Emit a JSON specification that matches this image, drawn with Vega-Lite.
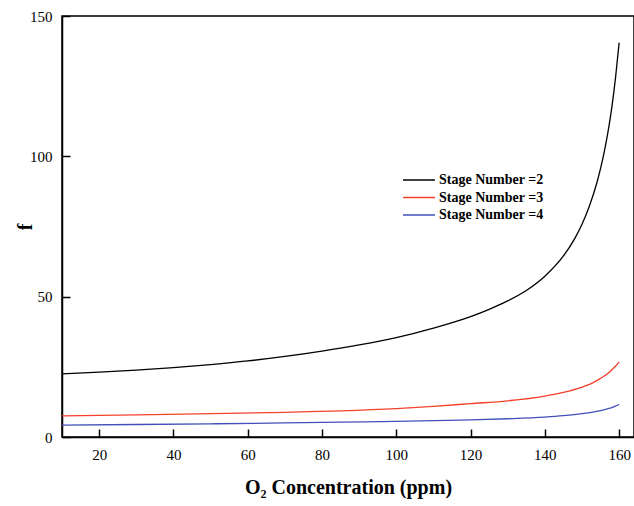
{
  "$schema": "https://vega.github.io/schema/vega-lite/v6.json",
  "width": 572,
  "height": 421,
  "autosize": {"type": "none"},
  "padding": {"left": 62, "top": 16, "right": 0, "bottom": 69},
  "background": "white",
  "config": {
    "font": "Liberation Serif",
    "view": {"stroke": "black", "strokeWidth": 1.5}
  },
  "data": {
    "values": [
      {"x": 10, "f": 22.5, "s": "Stage Number =2"},
      {"x": 20, "f": 23.1, "s": "Stage Number =2"},
      {"x": 30, "f": 23.8, "s": "Stage Number =2"},
      {"x": 40, "f": 24.7, "s": "Stage Number =2"},
      {"x": 50, "f": 25.8, "s": "Stage Number =2"},
      {"x": 60, "f": 27.1, "s": "Stage Number =2"},
      {"x": 70, "f": 28.7, "s": "Stage Number =2"},
      {"x": 80, "f": 30.6, "s": "Stage Number =2"},
      {"x": 90, "f": 32.8, "s": "Stage Number =2"},
      {"x": 100, "f": 35.4, "s": "Stage Number =2"},
      {"x": 110, "f": 38.8, "s": "Stage Number =2"},
      {"x": 120, "f": 42.9, "s": "Stage Number =2"},
      {"x": 125, "f": 45.5, "s": "Stage Number =2"},
      {"x": 130, "f": 48.5, "s": "Stage Number =2"},
      {"x": 135, "f": 52.2, "s": "Stage Number =2"},
      {"x": 140, "f": 57.3, "s": "Stage Number =2"},
      {"x": 145, "f": 64.5, "s": "Stage Number =2"},
      {"x": 148, "f": 70.6, "s": "Stage Number =2"},
      {"x": 150, "f": 75.8, "s": "Stage Number =2"},
      {"x": 152, "f": 82.3, "s": "Stage Number =2"},
      {"x": 154, "f": 90.6, "s": "Stage Number =2"},
      {"x": 155, "f": 95.7, "s": "Stage Number =2"},
      {"x": 156, "f": 101.7, "s": "Stage Number =2"},
      {"x": 157, "f": 108.7, "s": "Stage Number =2"},
      {"x": 158, "f": 117.2, "s": "Stage Number =2"},
      {"x": 159, "f": 127.7, "s": "Stage Number =2"},
      {"x": 160, "f": 140.5, "s": "Stage Number =2"},
      {"x": 10, "f": 7.5, "s": "Stage Number =3"},
      {"x": 30, "f": 7.9, "s": "Stage Number =3"},
      {"x": 50, "f": 8.3, "s": "Stage Number =3"},
      {"x": 70, "f": 8.8, "s": "Stage Number =3"},
      {"x": 85, "f": 9.3, "s": "Stage Number =3"},
      {"x": 100, "f": 10.1, "s": "Stage Number =3"},
      {"x": 110, "f": 10.9, "s": "Stage Number =3"},
      {"x": 120, "f": 11.9, "s": "Stage Number =3"},
      {"x": 130, "f": 12.9, "s": "Stage Number =3"},
      {"x": 140, "f": 14.6, "s": "Stage Number =3"},
      {"x": 145, "f": 15.9, "s": "Stage Number =3"},
      {"x": 150, "f": 17.8, "s": "Stage Number =3"},
      {"x": 153, "f": 19.4, "s": "Stage Number =3"},
      {"x": 155, "f": 20.9, "s": "Stage Number =3"},
      {"x": 157, "f": 22.7, "s": "Stage Number =3"},
      {"x": 158, "f": 23.9, "s": "Stage Number =3"},
      {"x": 159, "f": 25.2, "s": "Stage Number =3"},
      {"x": 160, "f": 26.8, "s": "Stage Number =3"},
      {"x": 10, "f": 4.2, "s": "Stage Number =4"},
      {"x": 30, "f": 4.45, "s": "Stage Number =4"},
      {"x": 50, "f": 4.7, "s": "Stage Number =4"},
      {"x": 70, "f": 5.0, "s": "Stage Number =4"},
      {"x": 85, "f": 5.3, "s": "Stage Number =4"},
      {"x": 100, "f": 5.6, "s": "Stage Number =4"},
      {"x": 110, "f": 5.85, "s": "Stage Number =4"},
      {"x": 120, "f": 6.1, "s": "Stage Number =4"},
      {"x": 130, "f": 6.5, "s": "Stage Number =4"},
      {"x": 140, "f": 7.1, "s": "Stage Number =4"},
      {"x": 145, "f": 7.6, "s": "Stage Number =4"},
      {"x": 150, "f": 8.3, "s": "Stage Number =4"},
      {"x": 153, "f": 8.9, "s": "Stage Number =4"},
      {"x": 155, "f": 9.4, "s": "Stage Number =4"},
      {"x": 157, "f": 10.1, "s": "Stage Number =4"},
      {"x": 158, "f": 10.5, "s": "Stage Number =4"},
      {"x": 159, "f": 11.0, "s": "Stage Number =4"},
      {"x": 160, "f": 11.6, "s": "Stage Number =4"}
    ]
  },
  "mark": {"type": "line", "interpolate": "monotone", "strokeWidth": 1.3},
  "encoding": {
    "x": {
      "field": "x",
      "type": "quantitative",
      "scale": {"domain": [10, 164], "nice": false, "zero": false},
      "axis": {
        "title": "O₂ Concentration (ppm)",
        "titleFont": "Liberation Serif",
        "titleFontSize": 20,
        "titleFontWeight": "bold",
        "titleColor": "black",
        "titlePadding": 15,
        "values": [20, 40, 60, 80, 100, 120, 140, 160],
        "labelFontSize": 15,
        "labelColor": "black",
        "labelPadding": 18,
        "tickSize": -8,
        "tickColor": "black",
        "tickWidth": 1.5,
        "domainColor": "black",
        "domainWidth": 1.5,
        "grid": false
      }
    },
    "y": {
      "field": "f",
      "type": "quantitative",
      "scale": {"domain": [0, 150], "nice": false},
      "axis": {
        "title": "f",
        "titleFont": "Liberation Serif",
        "titleFontSize": 20,
        "titleFontWeight": "bold",
        "titleColor": "black",
        "titlePadding": -6,
        "values": [0, 50, 100, 150],
        "labelFontSize": 15,
        "labelColor": "black",
        "labelPadding": 18,
        "tickSize": -8,
        "tickColor": "black",
        "tickWidth": 1.5,
        "domainColor": "black",
        "domainWidth": 1.5,
        "grid": false
      }
    },
    "color": {
      "field": "s",
      "type": "nominal",
      "scale": {
        "domain": ["Stage Number =2", "Stage Number =3", "Stage Number =4"],
        "range": ["#000000", "#f5402c", "#4050b8"]
      },
      "legend": {
        "title": null,
        "orient": "none",
        "legendX": 348,
        "legendY": 155,
        "padding": 0,
        "rowPadding": 1.5,
        "symbolType": "M-2,0H2",
        "symbolSize": 256,
        "symbolStrokeWidth": 1.5,
        "labelFont": "Liberation Serif",
        "labelFontSize": 14,
        "labelFontWeight": "bold",
        "labelColor": "black",
        "labelOffset": 11
      }
    }
  }
}
